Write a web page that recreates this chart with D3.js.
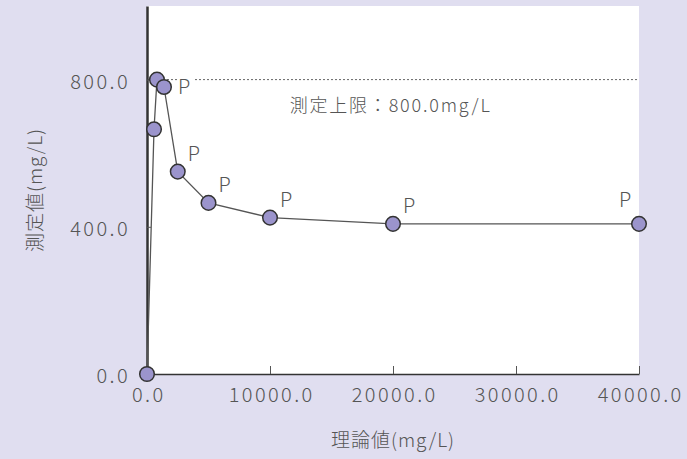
<!DOCTYPE html>
<html><head><meta charset="utf-8">
<script src="https://cdn.jsdelivr.net/npm/d3@7"></script>
<style>
html,body{margin:0;padding:0;background:#e0def0;}
text{font-family:"Noto Sans CJK JP","Noto Sans",sans-serif;fill:#555;font-weight:300;}
</style></head>
<body>
<svg id="c" width="687" height="459"></svg>
<script>
const theoretical = [0, 570, 810, 1380, 2500, 5000, 10000, 20000, 40000];
const measured    = [0, 665, 800, 780, 550, 465, 425, 408, 408];
const overLimit   = [false, false, false, true, true, true, true, true, true];
const xTicks = [0, 10000, 20000, 30000, 40000];
const yTicks = [0, 400, 800];
const limitValue = 800;
const limitLabel = "測定上限：800.0mg/L";
const xTitle = "理論値(mg/L)";
const yTitle = "測定値(mg/L)";

const svg = d3.select("#c");
const W = 687, H = 459;
const m = {l:147, r:48, t:6, b:85};
const x = d3.scaleLinear().domain([0, 40000]).range([m.l, W - m.r]);
const y = d3.scaleLinear().domain([0, 1000]).range([H - m.b, m.t]);

svg.append("rect").attr("width", W).attr("height", H).attr("fill", "#e0def0");
svg.append("rect").attr("x", x(0)).attr("y", y(1000))
  .attr("width", x(40000) - x(0)).attr("height", y(0) - y(1000)).attr("fill", "#fff");

// limit line
svg.append("line").attr("x1", x(0)).attr("x2", x(40000))
  .attr("y1", y(limitValue)).attr("y2", y(limitValue))
  .attr("stroke", "#666").attr("stroke-width", 1).attr("stroke-dasharray", "2,2");
svg.append("text").attr("x", x(11600)).attr("y", y(limitValue) + 32)
  .attr("font-size", 18).attr("letter-spacing", 1.8).text(limitLabel);

// axes
const xAxis = d3.axisBottom(x).tickValues(xTicks).tickSize(-8).tickSizeOuter(0)
  .tickFormat(d => d3.format(".1f")(d)).tickPadding(20);
const gx = svg.append("g").attr("transform", `translate(0,${y(0)})`).call(xAxis);
gx.select(".domain").attr("stroke", "#333").attr("stroke-width", 1.5);
gx.selectAll(".tick line").attr("stroke", "#555");
gx.selectAll(".tick text").attr("font-size", 20).attr("letter-spacing", 2.4).attr("dy", "0.4em")
  .attr("dx", 1.2)
  .style("font-family", "'Noto Sans CJK JP',sans-serif").style("fill", "#555");

const yAxis = d3.axisLeft(y).tickValues(yTicks).tickSize(-4).tickSizeOuter(0)
  .tickFormat(d => d3.format(".1f")(d)).tickPadding(17);
const gy = svg.append("g").attr("transform", `translate(${x(0)},0)`).call(yAxis);
gy.select(".domain").attr("stroke", "#333").attr("stroke-width", 2.5);
gy.selectAll(".tick line").attr("stroke", "#555");
gy.selectAll(".tick text").attr("font-size", 20).attr("letter-spacing", 2.4).attr("dy", "0.42em")
  .style("font-family", "'Noto Sans CJK JP',sans-serif").style("fill", "#555");

// titles
svg.append("text").attr("x", (x(0) + x(40000)) / 2).attr("y", 447)
  .attr("text-anchor", "middle").attr("font-size", 19).attr("letter-spacing", 1).text(xTitle);
svg.append("text").attr("transform", `translate(42,190) rotate(-90)`)
  .attr("text-anchor", "middle").attr("font-size", 19).attr("letter-spacing", 1).text(yTitle);

// data
const data = theoretical.map((t, i) => ({t, v: measured[i], p: overLimit[i], i}));
const line = d3.line().x(d => x(d.t)).y(d => y(d.v));
svg.append("path").datum(data).attr("d", line)
  .attr("fill", "none").attr("stroke", "#555").attr("stroke-width", 1.3);

// P labels
const labelOff = (d) => {
  if (d.i === 3) return [14, 7];
  if (d.t === 40000) return [-20, -17];
  return [10, -11];
};
data.filter(d => d.p).forEach(d => {
  const [dx, dy] = labelOff(d);
  const lx = x(d.t) + dx, ly = y(d.v) + dy;
  if (d.i === 3) {
    svg.append("rect").attr("x", lx - 1).attr("y", ly - 15).attr("width", 16).attr("height", 16).attr("fill", "#fff");
  }
  svg.append("text").attr("x", lx).attr("y", ly).attr("font-size", 20).text("P");
});

svg.selectAll("circle.pt").data(data).join("circle").attr("class", "pt")
  .attr("cx", d => x(d.t)).attr("cy", d => y(d.v)).attr("r", 7.3)
  .attr("fill", "#9b94cc").attr("stroke", "#333").attr("stroke-width", 1.5);
</script>
</body></html>
